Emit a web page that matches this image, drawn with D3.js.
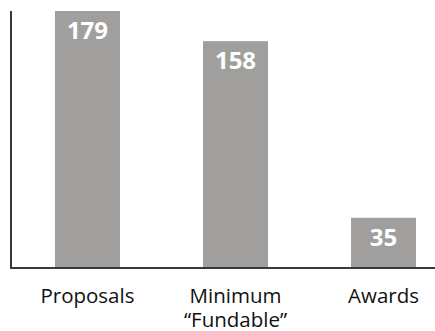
<!DOCTYPE html>
<html><head><meta charset="utf-8">
<script src="https://cdn.jsdelivr.net/npm/d3@7"></script>
<style>body{margin:0;background:#fff}svg{display:block}</style>
</head><body>
<script>
const categories = [["Proposals"], ["Minimum", "\u201CFundable\u201D"], ["Awards"]];
const values = [179, 158, 35];
const keys = ["Proposals", "Minimum Fundable", "Awards"];

(function() {
const W = 435, H = 331;
const svg = d3.select("body").append("svg").attr("width", W).attr("height", H);
const x0 = 11, base = 268, yTop = 11;
const x = d3.scaleBand().domain(keys).range([x0, 460]).paddingInner(0.561).paddingOuter(0.297);
const y = d3.scaleLinear().domain([0, 179]).range([base, yTop]);

svg.selectAll("rect.bar").data(values).join("rect")
  .attr("x", (d, i) => x(keys[i])).attr("width", x.bandwidth())
  .attr("y", d => y(d)).attr("height", d => base - y(d))
  .attr("fill", "#a09f9d");

svg.selectAll("text.val").data(values).join("text")
  .attr("x", (d, i) => x(keys[i]) + x.bandwidth() / 2)
  .attr("y", d => y(d) + 28)
  .attr("text-anchor", "middle")
  .attr("font-family", "'Open Sans', sans-serif").attr("font-weight", "bold")
  .attr("font-size", 24).attr("fill", "#fff")
  .text(d => d);

svg.append("line").attr("x1", x0).attr("x2", x0).attr("y1", yTop).attr("y2", base + 1)
  .attr("stroke", "#3a3a3a").attr("stroke-width", 2);
svg.append("line").attr("x1", x0 - 1).attr("x2", W).attr("y1", base).attr("y2", base)
  .attr("stroke", "#3a3a3a").attr("stroke-width", 2);

const lab = svg.selectAll("text.cat").data(categories).join("text")
  .attr("text-anchor", "middle")
  .attr("font-family", "'Open Sans', sans-serif").attr("font-size", 20.5)
  .attr("fill", "#111");
lab.each(function(lines, i) {
  const t = d3.select(this);
  lines.forEach((l, j) => {
    t.append("tspan").attr("x", x(keys[i]) + x.bandwidth() / 2)
      .attr("y", 302.5 + j * 24).text(l);
  });
});
})();
</script>
</body></html>
